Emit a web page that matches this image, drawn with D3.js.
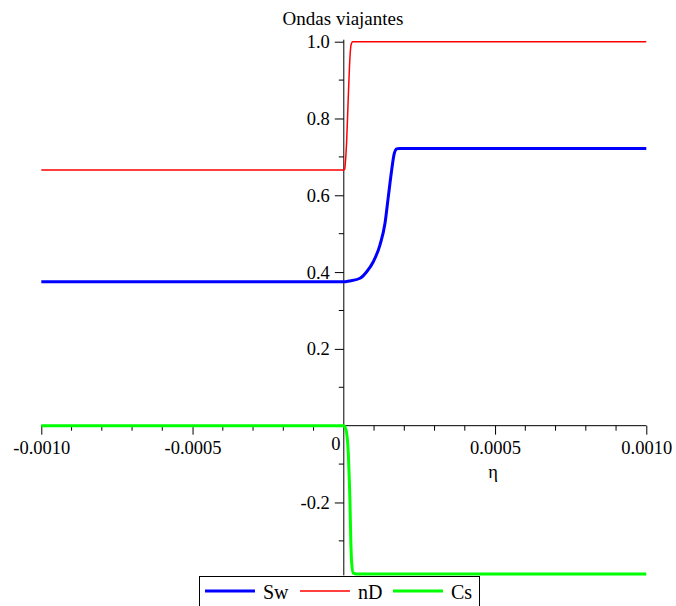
<!DOCTYPE html>
<html>
<head>
<meta charset="utf-8">
<script src="https://cdn.jsdelivr.net/npm/d3@7"></script>
<style>
html,body{margin:0;padding:0;background:#fff;}
svg{display:block;}
svg text{font-family:"Liberation Serif","Times New Roman",Times,"DejaVu Serif",serif !important;fill:#000;}
</style>
</head>
<body>
<svg id="chart" width="676" height="606" font-family="Liberation Serif, Times New Roman, serif"></svg>
<script>
// ---- data ----
const title = "Ondas viajantes";
const xLabel = "η";
const seriesNames = ["Sw", "nD", "Cs"];
const seriesColors = ["#0000ff", "#ff0000", "#00ff00"];

const swEta = [-0.001, 0, 0.0000100, 0.0000205, 0.0000536, 0.0000757, 0.0000975, 0.0001197, 0.0001362, 0.0001471, 0.0001583, 0.0001669, 0.0001749, 0.0001830, 0.001];
const swVal = [0.375, 0.375, 0.3755, 0.377, 0.384, 0.401, 0.427, 0.471, 0.527, 0.596, 0.666, 0.709, 0.721, 0.722, 0.722];

const ndEta = [-0.001, 0, 0.0000030, 0.0000050, 0.0000096, 0.0000149, 0.0000205, 0.0000238, 0.0000294, 0.0000420, 0.001];
const ndVal = [0.666, 0.666, 0.668, 0.683, 0.744, 0.857, 0.961, 0.991, 1.0, 1.0, 1.0];

const csEta = [-0.001, 0, 0.0000040, 0.0000096, 0.0000149, 0.0000182, 0.0000205, 0.0000228, 0.0000261, 0.0000314, 0.0000426, 0.001];
const csVal = [0, 0, -0.004, -0.020, -0.072, -0.141, -0.202, -0.289, -0.358, -0.384, -0.386, -0.386];

const xMajor = [-0.001, -0.0005, 0.0005, 0.001];
const xMajorLabels = ["-0.0010", "-0.0005", "0.0005", "0.0010"];
const xMinor = [-0.0009, -0.0008, -0.0007, -0.0006, -0.0004, -0.0003, -0.0002, -0.0001, 0.0001, 0.0002, 0.0003, 0.0004, 0.0006, 0.0007, 0.0008, 0.0009];
const yMajor = [-0.2, 0.2, 0.4, 0.6, 0.8, 1.0];
const yMajorLabels = ["-0.2", "0.2", "0.4", "0.6", "0.8", "1.0"];
const yMinor = [-0.3, -0.1, 0.1, 0.3, 0.5, 0.7, 0.9];
const originLabel = "0";

// ---- drawing ----
const FONT = '"Liberation Serif","Times New Roman",Times,serif';
const svg = d3.select("#chart");
const x = d3.scaleLinear().domain([-0.001, 0.001]).range([41.3, 646.3]);
const y = d3.scaleLinear().domain([-0.386, 1.0]).range([573.9, 41.7]);
const fs = 18.5;

// x axis (ticks hang below)
const gx = svg.append("g").attr("transform", `translate(0,${y(0)})`);
gx.call(d3.axisBottom(x).tickValues(xMajor).tickSize(9).tickFormat((d, i) => xMajorLabels[i]).tickPadding(6));
gx.attr("font-family", FONT).attr("font-size", fs);
gx.call(g => g.select(".domain").remove());
gx.append("line").attr("x1", x(-0.001)).attr("x2", x(0.001)).attr("y1", 0).attr("y2", 0).attr("stroke", "#000").attr("stroke-width", 1);
gx.selectAll(".minor").data(xMinor).enter().append("line")
  .attr("x1", d => x(d)).attr("x2", d => x(d)).attr("y1", 0).attr("y2", 5).attr("stroke", "#000");
gx.selectAll(".tick line").attr("stroke", "#000");

// y axis (ticks to the left)
const gy = svg.append("g").attr("transform", `translate(${x(0)},0)`);
gy.call(d3.axisLeft(y).tickValues(yMajor).tickSize(9).tickFormat((d, i) => yMajorLabels[i]).tickPadding(5));
gy.attr("font-family", FONT).attr("font-size", fs);
gy.call(g => g.select(".domain").remove());
gy.append("line").attr("x1", 0).attr("x2", 0).attr("y1", y(1.0) - 2).attr("y2", y(-0.386) + 1.5).attr("stroke", "#000");
gy.selectAll(".minor").data(yMinor).enter().append("line")
  .attr("x1", 0).attr("x2", -5).attr("y1", d => y(d)).attr("y2", d => y(d)).attr("stroke", "#000");
gy.selectAll(".tick line").attr("stroke", "#000");

// origin label
svg.append("text").attr("x", x(0) - 8).attr("y", y(0) + 24).attr("text-anchor", "middle")
  .attr("font-size", fs).text(originLabel);

// x label
svg.append("text").attr("x", 493).attr("y", 478).attr("text-anchor", "middle")
  .attr("font-size", fs).text(xLabel);

// title
svg.append("text").attr("x", 343).attr("y", 25).attr("text-anchor", "middle")
  .attr("font-size", 19).text(title);

// curves
const line = d3.line().x(d => x(d[0])).y(d => y(d[1])).curve(d3.curveMonotoneX);
const order = [
  { eta: swEta, val: swVal, color: seriesColors[0], w: 3 },
  { eta: ndEta, val: ndVal, color: seriesColors[1], w: 1.5 },
  { eta: csEta, val: csVal, color: seriesColors[2], w: 3 }
];
order.forEach(s => {
  svg.append("path").datum(s.eta.map((e, i) => [e, s.val[i]]))
    .attr("d", line).attr("fill", "none").attr("stroke", s.color)
    .attr("stroke-width", s.w).attr("stroke-linejoin", "round");
});

// legend
const lg = svg.append("g");
lg.append("rect").attr("x", 199.5).attr("y", 576.5).attr("width", 280).attr("height", 40)
  .attr("fill", "#fff").attr("stroke", "#000").attr("stroke-width", 1);
const legendItems = [
  { name: seriesNames[0], color: seriesColors[0], w: 3, x0: 205 },
  { name: seriesNames[1], color: seriesColors[1], w: 1.5, x0: 300 },
  { name: seriesNames[2], color: seriesColors[2], w: 3, x0: 393 }
];
legendItems.forEach(it => {
  lg.append("line").attr("x1", it.x0).attr("x2", it.x0 + 50).attr("y1", 591).attr("y2", 591)
    .attr("stroke", it.color).attr("stroke-width", it.w);
  lg.append("text").attr("x", it.x0 + 58).attr("y", 599).attr("font-size", 20).text(it.name);
});
</script>
</body>
</html>
